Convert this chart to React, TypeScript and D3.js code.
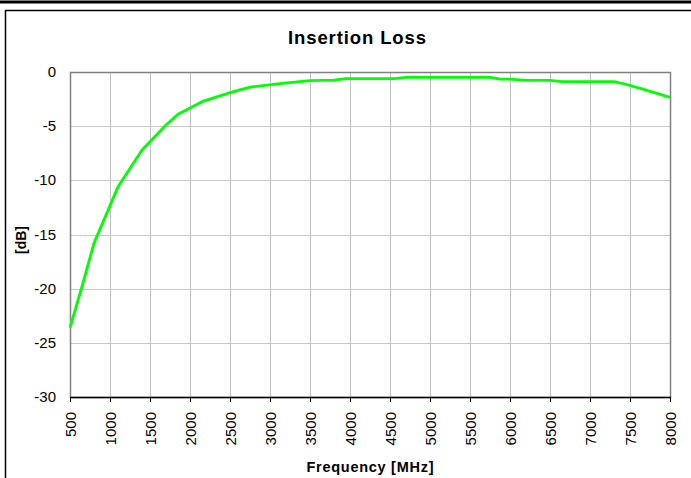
import React from "react";
import * as d3 from "d3";

const freqs = [500, 650, 800, 1100, 1400, 1700, 1850, 2150, 2500, 2750, 3150, 3500, 3800, 3950, 4550, 4700, 5750, 5880, 6000, 6200, 6500, 6650, 7300, 7400, 7650, 8000];
const lossDb = [-23.6, -19.8, -15.8, -10.6, -7.2, -4.9, -3.9, -2.74, -1.9, -1.4, -1.05, -0.8, -0.75, -0.62, -0.62, -0.49, -0.49, -0.66, -0.66, -0.77, -0.77, -0.89, -0.89, -1.04, -1.55, -2.35];
const xTicks = [500, 1000, 1500, 2000, 2500, 3000, 3500, 4000, 4500, 5000, 5500, 6000, 6500, 7000, 7500, 8000];
const yTicks = [0, -5, -10, -15, -20, -25, -30];

const W = 691, H = 478;
const L = 70, R = 670, T = 72, B = 397;

export default function App() {
  const x = d3.scaleLinear().domain([500, 8000]).range([L, R]);
  const y = d3.scaleLinear().domain([-30, 0]).range([B, T]);
  const pts = freqs.map((f, i) => [f, lossDb[i]] as [number, number]);
  const line = d3.line<[number, number]>().x(d => x(d[0])).y(d => y(d[1]));
  const font = "Arial, 'Liberation Sans', sans-serif";
  return (
    <svg width={W} height={H} style={{ position: "absolute", left: 0, top: 0, background: "#fff" }} fontFamily={font}>
      <rect x={0} y={0} width={W} height={H} fill="#fff" />
      <line x1={0} x2={W} y1={2} y2={2} stroke="#000" strokeWidth={3} />
      <line x1={5.5} x2={5.5} y1={10} y2={H} stroke="#000" strokeWidth={1.5} />
      <line x1={5} x2={W} y1={10.5} y2={10.5} stroke="#000" strokeWidth={1.5} />
      <text x={357} y={43.5} textAnchor="middle" fontSize={18.5} fontWeight="bold" textLength={138} lengthAdjust="spacing">Insertion Loss</text>
      {xTicks.map(t => (
        <line key={"gx" + t} x1={x(t) + 0.5} x2={x(t) + 0.5} y1={T} y2={B} stroke="#c0c0c0" strokeWidth={1} />
      ))}
      {yTicks.map(t => (
        <line key={"gy" + t} x1={L} x2={R} y1={Math.round(y(t)) + 0.5} y2={Math.round(y(t)) + 0.5} stroke="#c8c8c8" strokeWidth={1} />
      ))}
      <rect x={L + 0.5} y={T + 0.5} width={R - L} height={B - T} fill="none" stroke="#808080" strokeWidth={1.5} />
      <line x1={L} x2={R + 1} y1={B + 0.5} y2={B + 0.5} stroke="#000" strokeWidth={1.5} />
      {xTicks.map(t => (
        <line key={"tx" + t} x1={x(t) + 0.5} x2={x(t) + 0.5} y1={B} y2={B + 5} stroke="#000" strokeWidth={1} />
      ))}
      <path d={line(pts) || ""} fill="none" stroke="#00ff00" strokeWidth={2.8} strokeLinejoin="round" />
      {yTicks.map(t => (
        <text key={"ly" + t} x={56} y={y(t) + 5} textAnchor="end" fontSize={15}>{t}</text>
      ))}
      {xTicks.map(t => (
        <text key={"lx" + t} transform={`translate(${x(t) + 5.5},${412}) rotate(-90)`} textAnchor="end" fontSize={15}>{t}</text>
      ))}
      <text x={370} y={471.5} textAnchor="middle" fontSize={14.5} fontWeight="bold" textLength={127} lengthAdjust="spacing">Frequency [MHz]</text>
      <text transform={`translate(${26},${240}) rotate(-90)`} textAnchor="middle" fontSize={14} fontWeight="bold">[dB]</text>
    </svg>
  );
}
